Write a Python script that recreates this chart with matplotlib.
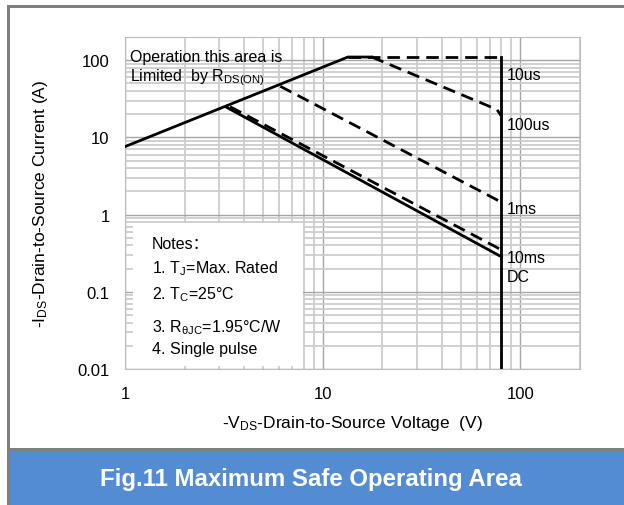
import numpy as np
import matplotlib
matplotlib.use("Agg")
import matplotlib.pyplot as plt
from matplotlib.patches import Rectangle

plt.rcParams['font.family'] = ['Liberation Sans', 'DejaVu Sans', 'Noto Sans CJK SC']
plt.rcParams['mathtext.fontset'] = 'custom'
plt.rcParams['mathtext.rm'] = 'Liberation Sans'
plt.rcParams['mathtext.it'] = 'Liberation Sans'

# SOA boundary lines (V, A)
rds_v = [1.0, 13.4, 17.7]
rds_i = [7.6, 110, 110]
us10_v = [13.4, 80]
us10_i = [110, 110]
us100_v = [17.7, 76, 80]
us100_i = [110, 23, 19]
ms1_v = [6.1, 80]
ms1_i = [46, 1.45]
ms10_v = [3.4, 80]
ms10_i = [25, 0.35]
dc_v = [3.27, 80]
dc_i = [24.5, 0.285]
vmax_v = [80, 80]
vmax_i = [110, 0.01]

curve_labels = ["10us", "100us", "1ms", "10ms", "DC"]
curve_label_y = [66, 14.8, 1.2, 0.277, 0.157]

notes = ["Notes：", "1. $\\mathregular{T_J}$=Max. Rated", "2. $\\mathregular{T_C}$=25°C",
         "3. $\\mathregular{R_{\\theta JC}}$=1.95°C/W", "4. Single pulse"]
notes_y = [0.42, 0.205, 0.094, 0.035, 0.0187]

fig = plt.figure(figsize=(6.24, 5.06), dpi=100)
ax = fig.add_axes([125/624, (506-370)/506, 455/624, 332/506])
ax.set_xscale('log')
ax.set_yscale('log')
ax.set_xlim(1, 200)
ax.set_ylim(0.01, 200)

ax.grid(which='major', color='#a6a6a6', lw=1.0, zorder=0)
ax.grid(which='minor', color='#cdcdcd', lw=1.3, zorder=0)
ax.set_axisbelow(True)
for s in ax.spines.values():
    s.set_color('#bdbdbd')

ax.set_xticks([1, 10, 100])
ax.set_xticklabels(["1", "10", "100"])
ax.set_yticks([0.01, 0.1, 1, 10, 100])
ax.set_yticklabels(["0.01", "0.1", "1", "10", "100"])
ax.tick_params(which='both', length=0, labelsize=12)
ax.tick_params(axis='y', pad=11)
ax.tick_params(axis='x', pad=12)

# white box behind notes
ax.add_patch(Rectangle((0.018, 0.008), 0.373, 0.432, transform=ax.transAxes,
                       facecolor='white', edgecolor='none', zorder=1))

lw = 2.0
dash = (0, (4.5, 2.5))
ax.plot(rds_v, rds_i, color='black', lw=lw, zorder=3)
ax.plot(us10_v, us10_i, color='black', lw=lw, ls=dash, zorder=3)
ax.plot(us100_v, us100_i, color='black', lw=lw, ls=dash, zorder=3)
ax.plot(ms1_v, ms1_i, color='black', lw=lw, ls=dash, zorder=3)
ax.plot(ms10_v, ms10_i, color='black', lw=lw, ls=dash, zorder=3)
ax.plot(dc_v, dc_i, color='black', lw=lw, zorder=3)
ax.plot(vmax_v, vmax_i, color='black', lw=lw, zorder=3)

for lab, yy in zip(curve_labels, curve_label_y):
    ax.text(85, yy, lab, fontsize=11.5, ha='left', va='center', zorder=4)

ax.text(1.06, 113, "Operation this area is", fontsize=11.5, va='center', zorder=4)
ax.text(1.06, 62, "Limited  by $\\mathregular{R_{DS(ON)}}$", fontsize=11.5, va='center', zorder=4)

for t, yy in zip(notes, notes_y):
    ax.text(1.37, yy, t, fontsize=11.5, va='center', zorder=4)

ax.set_xlabel("-$\\mathregular{V_{DS}}$-Drain-to-Source Voltage  (V)", fontsize=12.5, labelpad=9)
ax.set_ylabel("-$\\mathregular{I_{DS}}$-Drain-to-Source Current (A)", fontsize=12.5, labelpad=20)

# frame and caption banner
fig.patches.append(Rectangle((7/624, 0), 3/624, 500/506, transform=fig.transFigure,
                             facecolor='#7f7f7f', edgecolor='none'))
fig.patches.append(Rectangle((7/624, 497/506), 617/624, 3/506, transform=fig.transFigure,
                             facecolor='#7f7f7f', edgecolor='none'))
fig.patches.append(Rectangle((10/624, 54/506), 614/624, 3/506, transform=fig.transFigure,
                             facecolor='#7f7f7f', edgecolor='none'))
fig.patches.append(Rectangle((10/624, 0), 614/624, 54/506, transform=fig.transFigure,
                             facecolor='#538cd3', edgecolor='none'))
fig.text(311/624, 26/506, "Fig.11 Maximum Safe Operating Area", color='white',
         fontsize=17.3, fontweight='bold', ha='center', va='center')

fig.savefig("out.png", dpi=100)
